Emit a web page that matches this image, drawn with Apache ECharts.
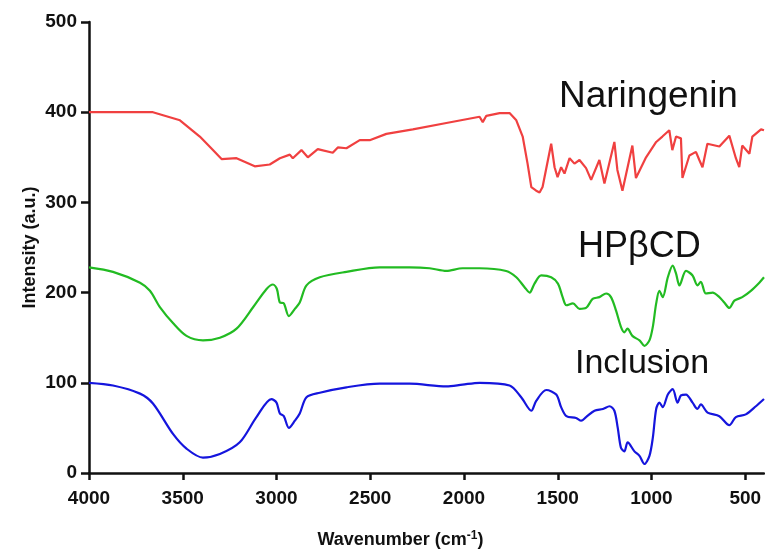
<!DOCTYPE html>
<html>
<head>
<meta charset="utf-8">
<script src="https://cdn.jsdelivr.net/npm/echarts@6/dist/echarts.min.js"></script>
<style>
  html, body { margin: 0; padding: 0; background: #fff; }
  #chart { width: 765px; height: 550px; }
</style>
</head>
<body>
<div id="chart"></div>
<script>
// wavenumber ticks shown on the x axis (axis runs 4000 -> 400)
var xTicks = [4000, 3500, 3000, 2500, 2000, 1500, 1000, 500];

// Naringenin
var naringeninWn = [4000, 3800, 3659, 3515, 3409, 3339, 3293, 3213, 3116, 3036, 2982, 2929, 2913, 2867, 2833,
  2780, 2700, 2673, 2627, 2556, 2503, 2414, 2273, 2094, 1917, 1900, 1881, 1810, 1757, 1721,
  1687, 1661, 1641, 1615, 1597, 1581, 1535, 1517, 1501, 1482, 1464, 1437, 1411, 1384, 1349,
  1322, 1278, 1251, 1198, 1182, 1155, 1102, 1083, 1029, 975, 942, 905, 889, 869, 843,
  835, 798, 763, 745, 728, 702, 638, 585, 550, 532, 516, 478, 462, 416, 400];
var naringeninI = [400, 400, 400, 391, 373, 358, 348, 349, 340, 342, 349, 353, 349, 358, 350,
  359, 355, 361, 360, 369, 369, 376, 381, 388, 395, 389, 396, 399, 399, 391,
  373, 343, 317, 313, 311, 317, 365, 339, 328, 339, 332, 349, 343, 347, 338,
  325, 347, 321, 367, 336, 313, 363, 327, 350, 367, 373, 380, 358, 373, 371,
  327, 352, 356, 347, 339, 365, 362, 374, 349, 339, 363, 354, 373, 381, 380];

// HPβCD
var hpbcdWn = [4000, 3872, 3728, 3675, 3622, 3551, 3480, 3392, 3302, 3213, 3124, 3053, 3019, 2998, 2982,
  2961, 2934, 2902, 2876, 2840, 2769, 2627, 2450, 2290, 2183, 2094, 2008, 1917, 1775, 1721,
  1677, 1650, 1624, 1588, 1535, 1499, 1474, 1454, 1419, 1384, 1349, 1314, 1278, 1242, 1216,
  1189, 1163, 1145, 1128, 1102, 1064, 1038, 1011, 993, 975, 958, 940, 913, 887, 869,
  851, 816, 781, 755, 737, 710, 674, 638, 612, 585, 558, 516, 470, 425, 400];
var hpbcdI = [228, 223, 211, 202, 184, 166, 152, 147, 150, 160, 184, 204, 209, 204, 189,
  188, 174, 182, 189, 208, 217, 223, 228, 228, 227, 224, 227, 227, 224, 217,
  206, 200, 210, 219, 217, 210, 195, 186, 188, 182, 183, 193, 195, 199, 195,
  180, 162, 156, 160, 152, 147, 141, 147, 162, 188, 202, 195, 217, 230, 221,
  208, 224, 219, 208, 212, 199, 200, 195, 189, 183, 191, 195, 202, 211, 217];

// Inclusion complex
var inclusionWn = [4000, 3872, 3728, 3659, 3551, 3480, 3392, 3302, 3196, 3107, 3027, 3000, 2982, 2961, 2934,
  2902, 2876, 2840, 2769, 2627, 2450, 2290, 2094, 2008, 1917, 1757, 1695, 1641, 1615, 1561,
  1508, 1482, 1454, 1402, 1375, 1349, 1304, 1259, 1224, 1198, 1180, 1163, 1145, 1127, 1091,
  1064, 1038, 1011, 993, 975, 958, 940, 913, 887, 861, 843, 816, 781, 755, 737,
  701, 638, 585, 550, 497, 443, 400];
var inclusionI = [100, 97, 88, 77, 43, 27, 17, 21, 34, 62, 82, 78, 66, 63, 50,
  58, 66, 84, 89, 95, 99, 99, 96, 98, 100, 97, 84, 69, 80, 92,
  87, 73, 63, 61, 58, 62, 69, 71, 74, 69, 50, 28, 24, 34, 24,
  19, 10, 19, 39, 71, 78, 73, 87, 93, 78, 86, 87, 78, 71, 76,
  67, 63, 53, 62, 65, 74, 82];

function pairs(xs, ys) {
  return xs.map(function(x, i) { return [x, ys[i]]; });
}

var font = 'Arial, "Liberation Sans", sans-serif';

var chart = echarts.init(document.getElementById('chart'), null, { renderer: 'canvas' });
chart.setOption({
  animation: false,
  backgroundColor: '#ffffff',
  grid: { left: 89, right: 1, top: 22, bottom: 77, containLabel: false, outerBoundsMode: 'none' },
  xAxis: {
    type: 'value',
    inverse: true,
    min: 400,
    max: 4000,
    name: '{a|Wavenumber (cm}{sup|-1}{a|)}',
    nameLocation: 'middle',
    nameGap: 57,
    nameTextStyle: {
      padding: [0, 52, 0, 0],
      rich: {
        a: { fontFamily: font, fontWeight: 'bold', fontSize: 18, color: '#111' },
        sup: { fontFamily: font, fontWeight: 'bold', fontSize: 12, color: '#111', verticalAlign: 'top', padding: [0, 0, 8, 0] }
      }
    },
    axisLine: { onZero: false, lineStyle: { color: '#111', width: 2.5 } },
    axisTick: { length: 7, lineStyle: { color: '#111', width: 2.5 }, customValues: xTicks },
    axisLabel: {
      customValues: xTicks, margin: 16, color: '#111', fontFamily: font, fontWeight: 'bold', fontSize: 19,
      formatter: function(v) { return String(v); }
    },
    splitLine: { show: false }
  },
  yAxis: {
    type: 'value',
    min: 0,
    max: 500,
    interval: 100,
    name: 'Intensity (a.u.)',
    nameLocation: 'middle',
    nameGap: 50,
    nameMoveOverlap: false,
    nameTextStyle: { fontFamily: font, fontWeight: 'bold', fontSize: 18, color: '#111' },
    axisLine: { show: true, onZero: false, lineStyle: { color: '#111', width: 2.5 } },
    axisTick: { show: true, length: 8, lineStyle: { color: '#111', width: 2.5 } },
    axisLabel: { margin: 12, color: '#111', fontFamily: font, fontWeight: 'bold', fontSize: 19 },
    splitLine: { show: false }
  },
  series: [
    { name: 'Naringenin', type: 'line', showSymbol: false, data: pairs(naringeninWn, naringeninI),
      lineStyle: { color: '#f04040', width: 2.2 }, z: 3 },
    { name: 'HPβCD', type: 'line', showSymbol: false, smooth: 0.3, data: pairs(hpbcdWn, hpbcdI),
      lineStyle: { color: '#22bb22', width: 2.2 }, z: 3 },
    { name: 'Inclusion', type: 'line', showSymbol: false, smooth: 0.3, data: pairs(inclusionWn, inclusionI),
      lineStyle: { color: '#1515dd', width: 2.2 }, z: 3 }
  ],
  graphic: [
    { type: 'text', left: 559, top: 78, style: { text: 'Naringenin', font: '37px ' + font, fill: '#111' } },
    { type: 'text', left: 578, top: 229, style: { text: 'HPβCD', font: '36px ' + font, fill: '#111' } },
    { type: 'text', left: 575, top: 347, style: { text: 'Inclusion', font: '34px ' + font, fill: '#111' } }
  ]
});
window.addEventListener('resize', function() { chart.resize(); });
</script>
</body>
</html>
